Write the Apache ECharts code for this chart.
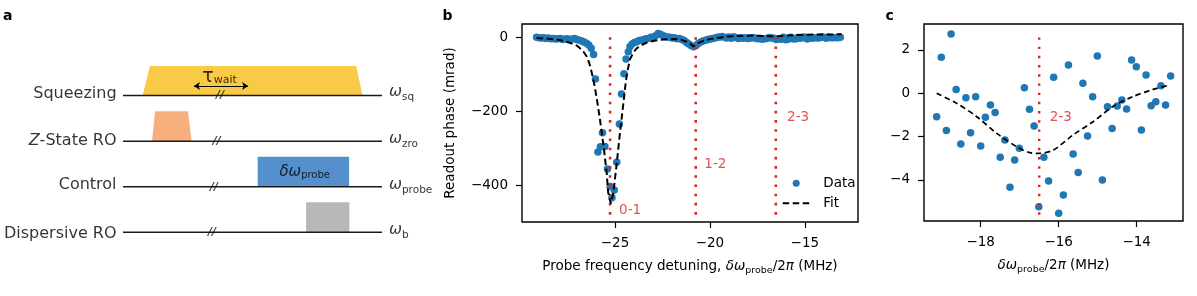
<!DOCTYPE html>
<html><head><meta charset="utf-8">
<script src="https://cdn.jsdelivr.net/npm/echarts@6/dist/echarts.min.js"></script>
<style>html,body{margin:0;padding:0;background:#fff}#c{width:1197px;height:296px}</style>
</head><body><div id="c"></div>
<script>
// ================= DATA =================
// Panel b: measured readout phase (mrad) vs probe detuning (MHz), outside the zoomed window
const bOuterData = [
  [-29.13,1],[-29.005,0],[-28.88,-1],[-28.755,0],[-28.63,-2],[-28.505,-1],[-28.38,-3],[-28.255,-2],
  [-28.13,-4],[-28.005,-3],[-27.88,-2],[-27.755,-5],[-27.63,-4],[-27.505,-3],[-27.38,-6],[-27.255,-4],
  [-27.13,-2],[-27.005,-5],[-26.88,-7],[-26.755,-9],[-26.63,-12],[-26.505,-15],[-26.38,-20],[-26.255,-29],
  [-26.13,-46],[-26.03,-112],
  [-25.9,-310],[-25.77,-296],[-25.66,-258],[-25.53,-295],[-25.4,-356],[-25.26,-404],[-25.16,-434],
  [-25.04,-413],[-24.91,-338],[-24.77,-234],[-24.66,-153],[-24.53,-98],[-24.42,-58],[-24.3,-38],[-24.21,-24],
  [-24.1,-17],[-23.98,-13],[-23.86,-11],[-23.73,-8],[-23.6,-7],[-23.48,-5],[-23.36,-3],[-23.23,-2],
  [-23.11,1],[-22.98,2],[-22.86,5],[-22.73,11],[-22.61,9],[-22.48,6],[-22.36,3],[-22.23,2],[-22.11,1],
  [-21.98,-1],[-21.86,0],[-21.73,-3],[-21.61,-2],[-21.48,-5],[-21.36,-8],[-21.23,-13],[-21.11,-17],
  [-20.98,-22],[-20.86,-25],[-20.73,-21],[-20.61,-16],[-20.48,-12],[-20.36,-9],[-20.23,-7],[-20.11,-5],
  [-19.98,-4],[-19.86,-2],[-19.73,-1],[-19.61,1],[-19.48,2],[-19.36,3],[-19.23,1]
];
// Panel c: zoomed window around the 2-3 transition (also part of panel b)
const cX = [-19.13,-19.01,-18.88,-18.76,-18.63,-18.51,-18.38,-18.26,-18.13,-18.0,-17.88,-17.75,-17.63,-17.5,
  -17.38,-17.25,-17.13,-17.01,-16.88,-16.75,-16.63,-16.51,-16.38,-16.26,-16.13,-16.0,-15.88,-15.75,-15.63,
  -15.5,-15.38,-15.26,-15.13,-15.01,-14.88,-14.75,-14.63,-14.5,-14.38,-14.26,-14.13,-14.01,-13.88,-13.76,
  -13.63,-13.51,-13.38,-13.26,-13.13];
const cY = [-1.08,1.66,-1.72,2.74,0.18,-2.34,-0.2,-1.82,-0.16,-2.43,-1.11,-0.54,-0.89,-2.95,-2.15,-4.34,
  -3.08,-2.54,0.26,-0.74,-1.51,-5.23,-2.95,-4.05,0.74,-5.54,-4.69,1.31,-2.8,-3.66,0.46,-1.97,-0.16,1.72,
  -4.0,-0.62,-1.62,-0.59,-0.31,-0.72,1.54,1.23,-1.69,0.84,-0.57,-0.39,0.35,-0.54,0.8];
// Fit curves
const bFit = [[-29.13,-1],[-28.5,-3],[-28.0,-6],[-27.7,-9],[-27.37,-14],[-27.0,-22],[-26.84,-29],[-26.65,-39],
  [-26.49,-51],[-26.35,-70],[-26.23,-94],[-26.1,-125],[-25.96,-165],[-25.79,-223],[-25.6,-296],[-25.44,-366],
  [-25.36,-420],[-25.22,-450],[-25.09,-422],[-24.91,-341],[-24.74,-259],[-24.56,-178],[-24.42,-115],
  [-24.3,-80],[-24.21,-58],[-24.0,-38],[-23.86,-29],[-23.6,-20],[-23.33,-13.5],[-23.0,-9],[-22.63,-6],
  [-22.2,-4.5],[-21.75,-4],[-21.5,-6],[-21.22,-11],[-21.0,-18],[-20.88,-24],[-20.78,-22],[-20.63,-15],
  [-20.3,-8],[-20.0,-4],[-19.5,0],[-19.12,3],[-18.5,4.5],[-17.72,5.5],[-17.0,4.5],[-16.56,3],[-16.0,6],
  [-15.0,8],[-13.07,9]];
const cFit = [[-19.13,0],[-18.62,-0.46],[-18.1,-1.08],[-17.59,-1.85],[-17.08,-2.46],[-16.74,-2.74],
  [-16.5,-2.77],[-16.14,-2.62],[-15.63,-1.92],[-15.11,-1.3],[-14.6,-0.6],[-14.09,-0.15],[-13.58,0.18],[-13.15,0.38]];
// Transitions
const transitionNames = ['0-1','1-2','2-3'];
const transitionFreqs = [-25.26, -20.75, -16.53];
const transitionSpanB = [-480, 10];
const transitionLabelB = [[-24.81,-470],[-20.32,-345],[-15.96,-216]];
const transitionFreqC = -16.5;
const transitionSpanC = [-5.6, 2.74];
const transitionLabelC = [-16.24, -1.1];
// Ticks
const bXTicks = [-25,-20,-15];
const bYTicks = [-400,-200,0];
const cXTicks = [-18,-16,-14];
const cYTicks = [-4,-2,0,2];
// Panel a: pulse sequence (time units 0..100, one row per channel)
const channels = ['Squeezing','Z-State RO','Control','Dispersive RO'];
const channelFreqSub = ['sq','zro','probe','b'];
// [row, rise start, rise end, fall start, fall end, amplitude]
const pulses = [[0,7.6,10.4,90.0,92.5,0.65],[1,11.2,12.4,25.1,26.5,0.658],[2,52.0,52.0,87.3,87.3,0.658],[3,70.7,70.7,87.4,87.4,0.658]];
const pulseColors = ['#f9ca45','#f7b07d','#5590cd','#b8b8b8'];
const timeline = [0,100];
const breakTimes = [37.5,36.2,35.1,34.4];
const waitSpan = [27.4,48.3];

// ================= CHART =================
const FONT = 'DejaVu Sans';
const fmt = v => (v < 0 ? '\u2212' + Math.abs(v) : String(v));
const chart = echarts.init(document.getElementById('c'), null, {renderer:'canvas'});
const cData = cX.map((x,i)=>[x,cY[i]]);
const bData = bOuterData.concat(cData);

function axisCommon(ticks){
  return {
    type:'value', axisLine:{show:false, onZero:false}, splitLine:{show:false},
    axisTick:{show:true, inside:false, length:6, customValues:ticks, lineStyle:{color:'#000', width:1.2}},
    axisLabel:{customValues:ticks, formatter:fmt, color:'#000', fontSize:13.5, fontFamily:FONT, margin:14},
    nameMoveOverlap:false
  };
}
const nameRich = {
  n:{fontSize:13.5, lineHeight:15, fontFamily:FONT, color:'#000'},
  i:{fontSize:13.5, lineHeight:15, fontStyle:'italic', fontFamily:FONT, color:'#000'},
  s:{fontSize:9.5, lineHeight:9.5, verticalAlign:'top', padding:[7,0,0,0], fontFamily:FONT, color:'#000'}
};
const aRich = {
  n:{fontSize:16, lineHeight:16, fontFamily:FONT, color:'#000'},
  it:{fontSize:16, lineHeight:16, fontStyle:'italic', fontFamily:FONT, color:'#000'},
  w:{fontSize:15.5, lineHeight:16, fontStyle:'italic', fontFamily:FONT, color:'#000'},
  s:{fontSize:10.5, lineHeight:10.5, verticalAlign:'top', padding:[7.4,0,0,0], fontFamily:FONT, color:'#000'},
  tau:{fontSize:19, lineHeight:16, fontFamily:FONT, color:'#000'},
  ts:{fontSize:11, lineHeight:11, verticalAlign:'top', padding:[5.4,0,0,0], fontFamily:FONT, color:'#000'},
  d:{fontSize:15, lineHeight:15, fontStyle:'italic', fontFamily:FONT, color:'#000'},
  ds:{fontSize:10, lineHeight:10, verticalAlign:'top', padding:[6,0,0,0], fontFamily:FONT, color:'#000'},
  br:{fontSize:11, lineHeight:11, fontStyle:'italic', fontWeight:'bold', fontFamily:FONT, color:'#111'}
};
const rowLabelOff = [0.03,0.0,0.05,-0.03];
const freqLabelOff = [0.07,0.04,0.04,0.04];
function textSeries(items, position){
  return {
    type:'scatter', xAxisIndex:0, yAxisIndex:0, symbol:'circle', symbolSize:1, silent:true, z:10,
    itemStyle:{color:'rgba(0,0,0,0)'},
    label:{show:true, position:position, distance:0, rich:aRich, fontFamily:FONT, color:'#000'},
    data: items.map(it=>({value:it.v, label:{formatter:it.t}}))
  };
}

const series = [];
// ---- panel a ----
series.push({
  type:'custom', xAxisIndex:0, yAxisIndex:0, silent:true, z:1,
  renderItem:function(params, api){
    const r = api.value(0), t0=api.value(1), t1=api.value(2), t2=api.value(3), t3=api.value(4), a=api.value(5);
    const pts = [[t0,-r],[t1,-r+a],[t2,-r+a],[t3,-r]].map(p=>api.coord(p));
    return {type:'polygon', shape:{points:pts}, style:{fill:pulseColors[params.dataIndex]}};
  },
  data: pulses
});
channels.forEach((ch,r)=>{
  series.push({type:'line', xAxisIndex:0, yAxisIndex:0, silent:true, z:3, symbol:'none',
    lineStyle:{color:'#1a1a1a', width:1.5}, data: timeline.map(t=>[t,-r])});
});
series.push(textSeries(breakTimes.map((t,r)=>({v:[t,-r], t:'{br|//}'})), 'inside'));
series.push({
  type:'lines', coordinateSystem:'cartesian2d', xAxisIndex:0, yAxisIndex:0, silent:true, z:4,
  symbol:['arrow','arrow'], symbolSize:6, lineStyle:{color:'#000', width:1, opacity:1},
  data:[{coords: waitSpan.map(t=>[t,0.21])}]
});
series.push(textSeries(channels.map((ch,r)=>({v:[-2.3,-r+rowLabelOff[r]],
  t: ch.startsWith('Z') ? '{it|Z}{n|' + ch.slice(1) + '}' : '{n|' + ch + '}'})), 'left'));
series.push(textSeries(channelFreqSub.map((s,r)=>({v:[102.5,-r+freqLabelOff[r]], t:'{w|ω}{s|' + s + '}'})), 'right'));
series.push(textSeries([
  {v:[37.26,0.40], t:'{tau|τ}{ts|wait}'},
  {v:[70.15,-1.669], t:'{d|δω}{ds|probe}'}
], 'inside'));

// ---- panel b ----
series.push({name:'Data', type:'scatter', xAxisIndex:1, yAxisIndex:1, symbolSize:7.5, z:2,
  itemStyle:{color:'#1f77b4', opacity:1}, data:bData});
transitionFreqs.forEach((f,i)=>{
  series.push({type:'line', xAxisIndex:1, yAxisIndex:1, symbol:'none', silent:true, z:3,
    lineStyle:{color:'#d62728', width:2.6, type:[2.6,6.6]}, data: transitionSpanB.map(y=>[f,y])});
});
series.push({name:'Fit', type:'line', xAxisIndex:1, yAxisIndex:1, symbol:'none', z:4,
  itemStyle:{color:'#000'},
  lineStyle:{color:'#000', width:2, type:[6.5,3.5]}, data:bFit});
series.push({type:'scatter', xAxisIndex:1, yAxisIndex:1, symbolSize:1, silent:true, z:5,
  itemStyle:{color:'rgba(0,0,0,0)'},
  label:{show:true, position:'right', distance:0, color:'#d62728', fontSize:13.5, fontFamily:FONT,
    formatter:p=>transitionNames[p.dataIndex]},
  data: transitionLabelB});

// ---- panel c ----
series.push({type:'scatter', xAxisIndex:2, yAxisIndex:2, symbolSize:7.5, z:2,
  itemStyle:{color:'#1f77b4', opacity:1}, data:cData});
series.push({type:'line', xAxisIndex:2, yAxisIndex:2, symbol:'none', silent:true, z:3,
  lineStyle:{color:'#d62728', width:2.4, type:[2.4,6.8]}, data: transitionSpanC.map(y=>[transitionFreqC,y])});
series.push({type:'line', xAxisIndex:2, yAxisIndex:2, symbol:'none', silent:true, z:4, smooth:0.3,
  lineStyle:{color:'#000', width:1.7, type:[5.5,3.5]}, data:cFit});
series.push({type:'scatter', xAxisIndex:2, yAxisIndex:2, symbolSize:1, silent:true, z:5,
  itemStyle:{color:'rgba(0,0,0,0)'},
  label:{show:true, position:'right', distance:0, color:'#d62728', fontSize:13.5, fontFamily:FONT,
    formatter:()=>transitionNames[2]},
  data:[transitionLabelC]});

const option = {
  animation:false,
  backgroundColor:'#fff',
  textStyle:{fontFamily:FONT},
  title:[
    {text:'a', left:3, top:9.5, padding:0, textStyle:{fontSize:14, fontWeight:'bold', fontFamily:FONT, color:'#000', lineHeight:14}},
    {text:'b', left:442.5, top:9.5, padding:0, textStyle:{fontSize:14, fontWeight:'bold', fontFamily:FONT, color:'#000', lineHeight:14}},
    {text:'c', left:885.5, top:9.5, padding:0, textStyle:{fontSize:14, fontWeight:'bold', fontFamily:FONT, color:'#000', lineHeight:14}}
  ],
  legend:{
    data:[{name:'Data', icon:'circle'}, {name:'Fit', itemStyle:{opacity:0}}],
    orient:'vertical', left:781.7, top:176.3, padding:0,
    itemWidth:27, itemHeight:7, itemGap:6, selectedMode:false,
    formatter:n=>'  ' + n,
    textStyle:{fontSize:13.5, lineHeight:14, color:'#000', fontFamily:FONT}
  },
  grid:[
    {left:0, top:50, width:420, height:227.85, show:false},
    {left:522, top:24, width:336, height:198, show:true, borderColor:'#000', borderWidth:1.4, backgroundColor:'#fff'},
    {left:924, top:24, width:259, height:197, show:true, borderColor:'#000', borderWidth:1.4, backgroundColor:'#fff'}
  ],
  xAxis:[
    {gridIndex:0, type:'value', min:-47.49, max:114.67, show:false},
    Object.assign(axisCommon(bXTicks), {gridIndex:1, min:-29.9, max:-12.2,
      name:'{n|Probe frequency detuning, }{i|δω}{s|probe}{n|/2}{i|π}{n| (MHz)}',
      nameLocation:'middle', nameGap:36.5, nameTextStyle:{fontSize:13.5, lineHeight:15, color:'#000', rich:nameRich}}),
    Object.assign(axisCommon(cXTicks), {gridIndex:2, min:-19.454, max:-12.813,
      name:'{i|δω}{s|probe}{n|/2}{i|π}{n| (MHz)}',
      nameLocation:'middle', nameGap:36.5, nameTextStyle:{fontSize:13.5, lineHeight:15, color:'#000', rich:nameRich}})
  ],
  yAxis:[
    {gridIndex:0, type:'value', min:-4, max:1, show:false},
    Object.assign(axisCommon(bYTicks), {gridIndex:1, min:-500, max:37,
      name:'Readout phase (mrad)', nameLocation:'middle', nameGap:64,
      nameTextStyle:{fontSize:13.5, lineHeight:16, color:'#000', fontFamily:FONT}}),
    Object.assign(axisCommon(cYTicks), {gridIndex:2, min:-5.893, max:3.198})
  ],
  series: series
};
chart.setOption(option);
</script></body></html>
